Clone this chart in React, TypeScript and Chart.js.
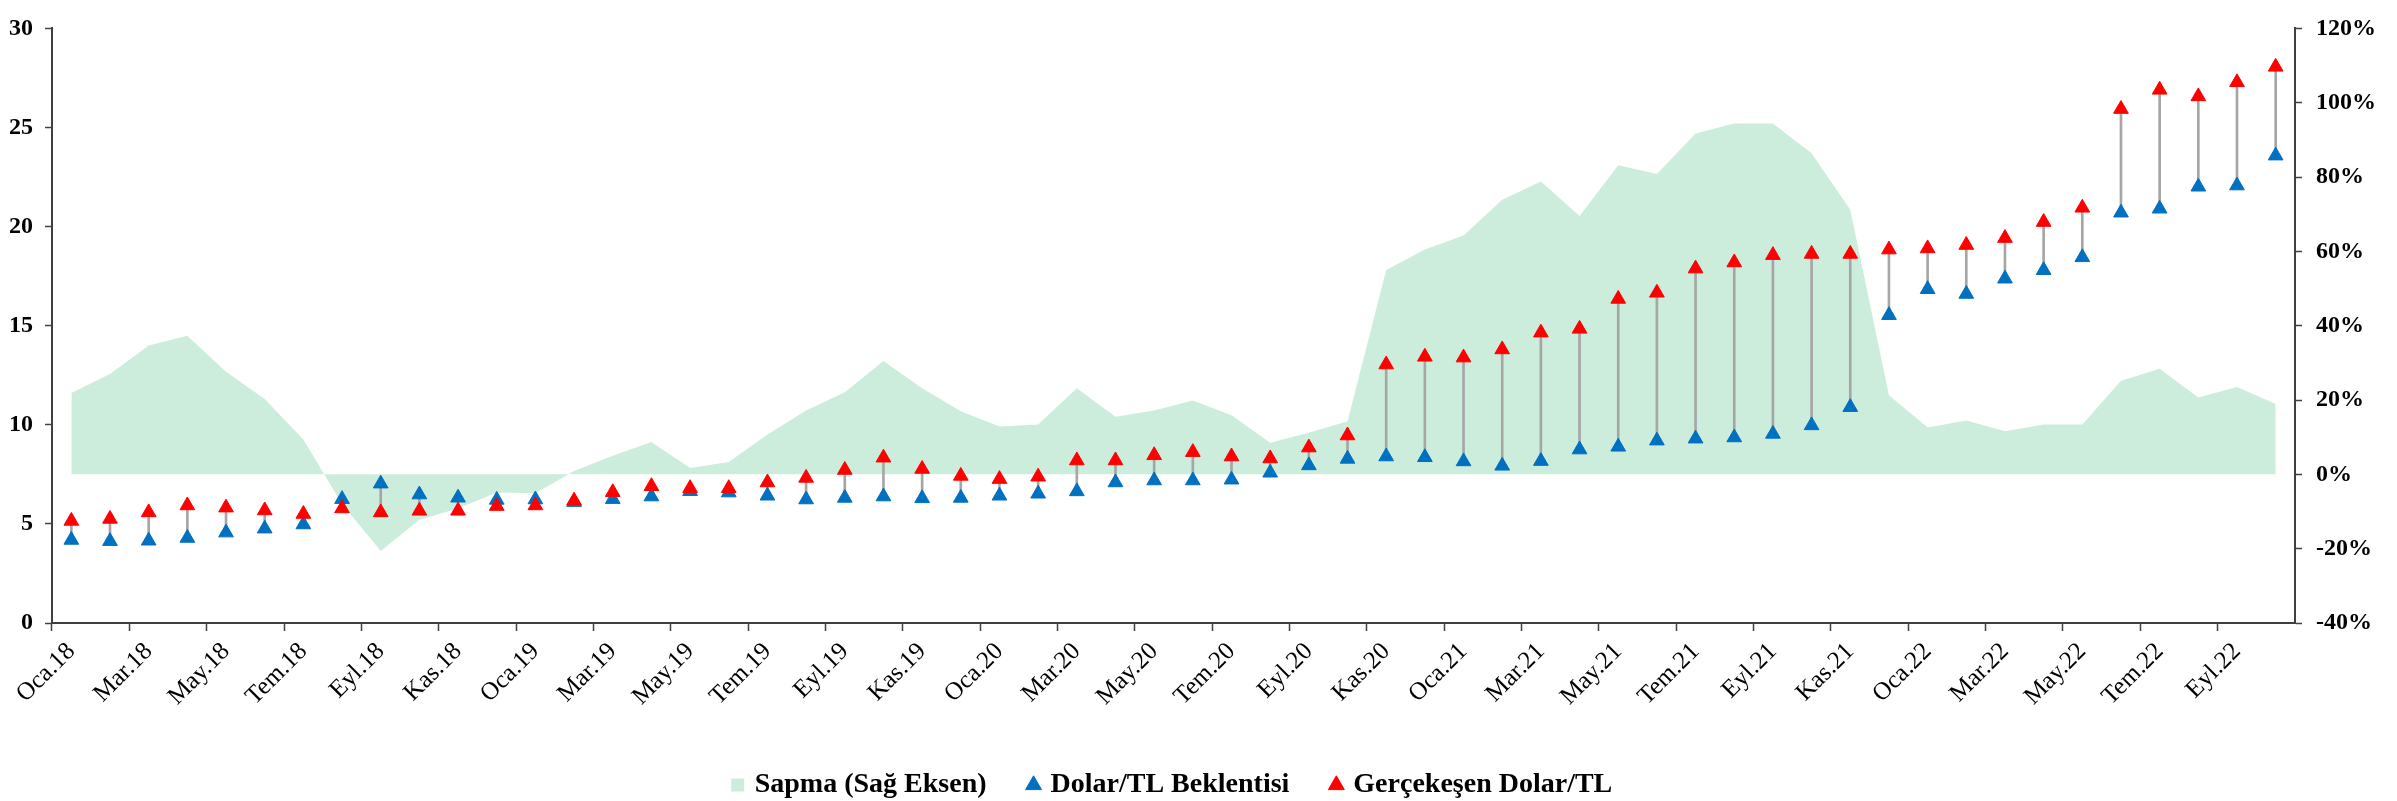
import { useEffect, useRef } from 'react';
import { Chart, registerables } from 'chart.js';

Chart.register(...registerables);

const categories = [
  'Oca.18', 'Şub.18', 'Mar.18', 'Nis.18', 'May.18', 'Haz.18', 'Tem.18', 'Ağu.18', 'Eyl.18', 'Eki.18', 'Kas.18', 'Ara.18',
  'Oca.19', 'Şub.19', 'Mar.19', 'Nis.19', 'May.19', 'Haz.19', 'Tem.19', 'Ağu.19', 'Eyl.19', 'Eki.19', 'Kas.19', 'Ara.19',
  'Oca.20', 'Şub.20', 'Mar.20', 'Nis.20', 'May.20', 'Haz.20', 'Tem.20', 'Ağu.20', 'Eyl.20', 'Eki.20', 'Kas.20', 'Ara.20',
  'Oca.21', 'Şub.21', 'Mar.21', 'Nis.21', 'May.21', 'Haz.21', 'Tem.21', 'Ağu.21', 'Eyl.21', 'Eki.21', 'Kas.21', 'Ara.21',
  'Oca.22', 'Şub.22', 'Mar.22', 'Nis.22', 'May.22', 'Haz.22', 'Tem.22', 'Ağu.22', 'Eyl.22', 'Eki.22',
];

// Sapma (Sağ Eksen), %
const sapma = [
  21.9, 27.0, 34.7, 37.3, 27.6, 20.3, 9.4, -8.0, -20.6, -12.2, -9.2, -4.9,
  -5.1, 0.9, 5.0, 8.7, 1.7, 3.3, 10.7, 17.2, 22.1, 30.5, 23.2, 17.0,
  12.9, 13.4, 23.2, 15.5, 17.2, 19.9, 15.9, 8.5, 11.2, 14.3, 55.0, 60.5,
  64.3, 73.9, 78.8, 69.5, 83.2, 80.8, 91.7, 94.4, 94.4, 86.4, 71.2, 21.3,
  12.6, 14.5, 11.6, 13.4, 13.4, 25.2, 28.4, 20.7, 23.5, 18.9,
];

// Dolar/TL Beklentisi
const beklenti = [
  4.19, 4.13, 4.15, 4.29, 4.56, 4.76, 4.97, 6.25, 7.03, 6.48, 6.32, 6.21,
  6.23, 6.10, 6.25, 6.38, 6.65, 6.58, 6.42, 6.23, 6.31, 6.38, 6.29, 6.31,
  6.42, 6.52, 6.64, 7.09, 7.19, 7.19, 7.23, 7.58, 7.95, 8.28, 8.40, 8.36,
  8.15, 7.93, 8.17, 8.75, 8.89, 9.20, 9.30, 9.36, 9.54, 9.97, 10.89, 15.53,
  16.84, 16.60, 17.37, 17.80, 18.45, 20.70, 20.90, 22.01, 22.07, 23.58,
];

// Gerçekleşen Dolar/TL
const gerceklesen = [
  5.15, 5.25, 5.58, 5.93, 5.82, 5.68, 5.50, 5.78, 5.58, 5.66, 5.66, 5.90,
  5.93, 6.17, 6.60, 6.90, 6.80, 6.80, 7.09, 7.32, 7.72, 8.34, 7.77, 7.42,
  7.26, 7.38, 8.20, 8.20, 8.46, 8.62, 8.40, 8.30, 8.85, 9.46, 13.04, 13.43,
  13.39, 13.80, 14.65, 14.84, 16.35, 16.66, 17.88, 18.19, 18.56, 18.62, 18.62, 18.84,
  18.90, 19.07, 19.42, 20.23, 20.95, 25.93, 26.90, 26.57, 27.28, 28.06,
];

const leftTicks = [0, 5, 10, 15, 20, 25, 30];
const rightTicks = [-40, -20, 0, 20, 40, 60, 80, 100, 120];

const GREEN = 'rgb(204,237,219)';
const BLUE = '#0070C0';
const RED = '#FF0000';
const AXIS = '#404040';

export default function App() {
  const ref = useRef<HTMLCanvasElement>(null);

  useEffect(() => {
    document.body.style.margin = '0';
    document.body.style.overflow = 'hidden';
    Chart.defaults.font.family = '"Liberation Serif", "Times New Roman", serif';
    Chart.defaults.color = '#000';

    const chart = new Chart(ref.current as HTMLCanvasElement, {
      type: 'line',
      data: {
        labels: categories,
        datasets: [
          {
            type: 'line',
            label: 'Sapma (Sağ Eksen)',
            data: sapma,
            yAxisID: 'y1',
            fill: 'origin',
            backgroundColor: GREEN,
            borderColor: GREEN,
            borderWidth: 0,
            pointRadius: 0,
            pointHoverRadius: 0,
            pointStyle: 'rect',
            pointBackgroundColor: GREEN,
            pointBorderColor: GREEN,
            pointBorderWidth: 0,
            tension: 0,
            order: 3,
          },
          {
            type: 'line',
            label: 'Dolar/TL Beklentisi',
            data: beklenti,
            yAxisID: 'y',
            showLine: false,
            pointStyle: 'triangle',
            pointRadius: 8.5,
            pointHoverRadius: 8.5,
            backgroundColor: BLUE,
            borderColor: BLUE,
            pointBackgroundColor: BLUE,
            pointBorderColor: BLUE,
            pointBorderWidth: 1,
            order: 1,
          },
          {
            type: 'line',
            label: 'Gerçekeşen Dolar/TL',
            data: gerceklesen,
            yAxisID: 'y',
            showLine: false,
            pointStyle: 'triangle',
            pointRadius: 8.5,
            pointHoverRadius: 8.5,
            backgroundColor: RED,
            borderColor: RED,
            pointBackgroundColor: RED,
            pointBorderColor: RED,
            pointBorderWidth: 1,
            order: 0,
          },
          {
            type: 'bar',
            label: 'hl',
            data: beklenti.map((b, i) => [b, gerceklesen[i]]) as any,
            yAxisID: 'y',
            backgroundColor: '#A6A6A6',
            borderWidth: 0,
            barThickness: 2,
            order: 2,
          },
        ],
      },
      options: {
        responsive: true,
        maintainAspectRatio: false,
        animation: false,
        devicePixelRatio: 1,
        layout: { padding: { top: 15, bottom: -8, left: 0, right: 0 } },
        plugins: {
          tooltip: { enabled: false },
          title: { display: false },
          legend: {
            position: 'bottom',
            fullSize: false,
            labels: {
              usePointStyle: true,
              boxHeight: 13,
              boxWidth: 6,
              padding: 44,
              color: '#000',
              font: { size: 28, weight: 'bold' },
              filter: (item: any) => item.datasetIndex !== 3,
              sort: (a: any, b: any) => a.datasetIndex - b.datasetIndex,
            },
          },
        },
        scales: {
          x: {
            type: 'category',
            offset: true,
            grid: {
              offset: true,
              display: true,
              drawOnChartArea: false,
              drawTicks: true,
              tickLength: 8,
              tickWidth: 1.5,
              tickColor: (ctx: any) => (ctx.index !== undefined && ctx.index % 2 === 0 ? AXIS : 'rgba(0,0,0,0)'),
            },
            border: { display: true, color: AXIS, width: 2 },
            ticks: {
              autoSkip: false,
              minRotation: 45,
              maxRotation: 45,
              padding: 6,
              color: '#000',
              font: { size: 25 },
              callback: (_v: any, i: number) => (i % 2 === 0 ? categories[i] : ''),
            },
            afterFit: (s: any) => {
              s.height = 104;
            },
          },
          y: {
            type: 'linear',
            position: 'left',
            min: leftTicks[0],
            max: leftTicks[leftTicks.length - 1],
            afterBuildTicks: (s: any) => {
              s.ticks = leftTicks.map((v) => ({ value: v }));
            },
            grid: {
              display: true,
              drawOnChartArea: false,
              drawTicks: true,
              tickLength: 7,
              tickWidth: 1.5,
              tickColor: AXIS,
            },
            border: { display: true, color: AXIS, width: 2 },
            ticks: {
              padding: 12,
              color: '#000',
              font: { size: 24, weight: 'bold' },
            },
            afterFit: (s: any) => {
              s.width = 52;
            },
          },
          y1: {
            type: 'linear',
            position: 'right',
            min: rightTicks[0],
            max: rightTicks[rightTicks.length - 1],
            afterBuildTicks: (s: any) => {
              s.ticks = rightTicks.map((v) => ({ value: v }));
            },
            grid: {
              display: true,
              drawOnChartArea: false,
              drawTicks: true,
              tickLength: 7,
              tickWidth: 1.5,
              tickColor: AXIS,
            },
            border: { display: true, color: AXIS, width: 2 },
            ticks: {
              padding: 14,
              color: '#000',
              font: { size: 24, weight: 'bold' },
              callback: (v: any) => `${v}%`,
            },
            afterFit: (s: any) => {
              s.width = 102;
            },
          },
        },
      },
    });
    return () => chart.destroy();
  }, []);

  return (
    <div style={{ position: 'relative', width: 2397, height: 801 }}>
      <canvas ref={ref} />
    </div>
  );
}
